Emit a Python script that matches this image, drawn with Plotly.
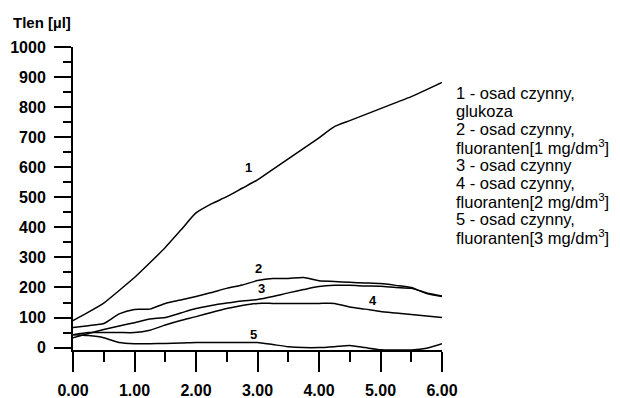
import plotly.graph_objects as go

x_vals = [0, 0.25, 0.5, 0.75, 1.0, 1.25, 1.5, 1.75, 2.0, 2.25, 2.5, 2.75, 3.0,
          3.25, 3.5, 3.75, 4.0, 4.25, 4.5, 4.75, 5.0, 5.25, 5.5, 5.75, 6.0]

s1 = [90, 118, 148, 190, 233, 282, 333, 390, 448, 478, 502, 530, 558,
      593, 628, 663, 698, 735, 755, 775, 795, 815, 835, 858, 882]
s2 = [67, 73, 80, 112, 127, 128, 147, 158, 170, 183, 197, 208, 223,
      230, 230, 233, 222, 220, 217, 215, 213, 207, 200, 180, 170]
s3 = [33, 47, 60, 72, 83, 95, 100, 115, 130, 140, 148, 155, 160,
      170, 182, 193, 203, 207, 207, 205, 204, 200, 197, 182, 172]
s4 = [43, 50, 50, 50, 50, 58, 75, 90, 103, 117, 130, 140, 147,
      147, 147, 147, 147, 147, 135, 128, 120, 115, 110, 105, 100]
s5 = [43, 40, 33, 17, 13, 13, 14, 15, 17, 17, 17, 17, 17,
      10, 3, 0, 0, 3, 7, 0, -7, -8, -8, -2, 13]

series = [s1, s2, s3, s4, s5]

# curve number labels (x, y in data units)
label_text = ["1", "2", "3", "4", "5"]
label_x = [2.86, 3.01, 3.06, 4.88, 2.94]
label_y = [600, 262, 197, 157, 42]

legend_lines = [
    "1 - osad czynny,",
    "glukoza",
    "2 - osad czynny,",
    "fluoranten[1 mg/dm<sup>3</sup>]",
    "3 - osad czynny",
    "4 - osad czynny,",
    "fluoranten[2 mg/dm<sup>3</sup>]",
    "5 - osad czynny,",
    "fluoranten[3 mg/dm<sup>3</sup>]",
]

y_title = "Tlen [µl]"

FONT = "Liberation Sans, Arial, sans-serif"

fig = go.Figure()
for s in series:
    fig.add_trace(go.Scatter(x=x_vals, y=s, mode="lines",
                             line=dict(color="black", width=1.5, shape="spline", smoothing=0.6),
                             showlegend=False, hoverinfo="skip"))

annotations = []
for t, lx, ly in zip(label_text, label_x, label_y):
    annotations.append(dict(x=lx, y=ly, xref="x", yref="y", text=t, showarrow=False,
                            font=dict(family=FONT, size=13, color="black", weight="bold")))

# legend text block (right of plot)
plot_left, plot_w = 73, 369
plot_top, plot_h = 47, 303
leg_top_px = 93
leg_step_px = 18
leg_x = (454 - plot_left) / plot_w
for i, line in enumerate(legend_lines):
    py = leg_top_px + i * leg_step_px
    annotations.append(dict(x=leg_x, y=1 - (py - plot_top) / plot_h, xref="paper", yref="paper",
                            xanchor="left", yanchor="middle", text=line, showarrow=False,
                            font=dict(family=FONT, size=16.5, color="black")))

annotations.append(dict(x=(11 - plot_left) / plot_w, y=1 + (plot_top - 22) / plot_h, xref="paper", yref="paper",
                        xanchor="left", yanchor="middle", text=y_title, showarrow=False,
                        font=dict(family=FONT, size=15, color="black", weight="bold")))

fig.update_layout(
    width=620, height=398,
    margin=dict(l=plot_left, r=620 - plot_left - plot_w, t=plot_top, b=398 - plot_top - plot_h,
                autoexpand=False),
    paper_bgcolor="white", plot_bgcolor="white",
    annotations=annotations,
    showlegend=False,
)

fig.update_xaxes(range=[0, 6], tickmode="linear", tick0=0, dtick=1, tickformat=".2f",
                 automargin=False,
                 showgrid=False, zeroline=False, showline=True, linecolor="black", linewidth=2,
                 ticks="outside", ticklen=20, tickwidth=2, tickcolor="black",
                 ticklabelstandoff=5,
                 minor=dict(dtick=0.5, ticks="outside", ticklen=10, tickwidth=2, tickcolor="black", showgrid=False),
                 tickfont=dict(family=FONT, size=16, color="black", weight="bold"))
fig.update_yaxes(range=[-8, 1000], tickmode="linear", tick0=0, dtick=100,
                 automargin=False,
                 showgrid=False, zeroline=False, showline=True, linecolor="black", linewidth=2,
                 ticks="outside", ticklen=17, tickwidth=2, tickcolor="black",
                 ticklabelstandoff=5,
                 minor=dict(dtick=50, ticks="outside", ticklen=8, tickwidth=2, tickcolor="black", showgrid=False),
                 tickfont=dict(family=FONT, size=16, color="black", weight="bold"))

fig.write_html("out.html", post_script="document.body.style.margin='0';",
               config={"displayModeBar": False})
